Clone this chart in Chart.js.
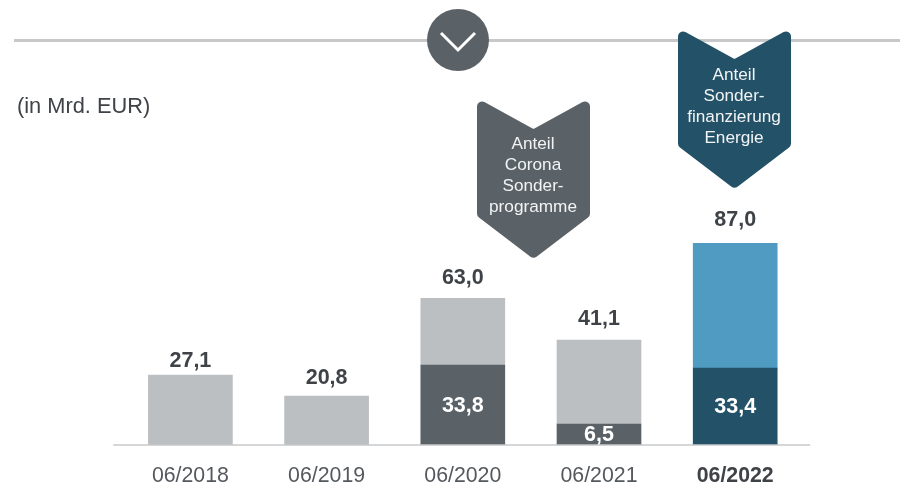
<!DOCTYPE html>
<html>
<head>
<meta charset="utf-8">
<style>
  html, body { margin: 0; padding: 0; background: #fff; }
  canvas { display: block; }
</style>
<script src="https://cdn.jsdelivr.net/npm/chart.js@4/dist/chart.umd.min.js"></script>
</head>
<body>
<canvas id="chart" width="904" height="484"></canvas>
<script>
const categories = ["06/2018", "06/2019", "06/2020", "06/2021", "06/2022"];

// bar segments
const coronaShare = [null, null, 34.5, 9, null];
const energyShare = [null, null, null, null, 33.2];
const restGrey = [30.2, 21.1, 28.8, 36.3, null];
const restBlue = [null, null, null, null, 53.8];

// printed labels
const totalLabels = ["27,1", "20,8", "63,0", "41,1", "87,0"];
const shareLabels = [null, null, "33,8", "6,5", "33,4"];
const unitLabel = "(in Mrd. EUR)";
const coronaNote = ["Anteil", "Corona", "Sonder-", "programme"];
const energyNote = ["Anteil", "Sonder-", "finanzierung", "Energie"];

const FONT = '"Liberation Sans", Arial, sans-serif';
const GREY_DARK = "#5a6268";
const TEAL = "#235268";
const BLUE = "#509bc2";
const GREY_LIGHT = "#bbbfc2";
const RULE = "#c6c8ca";
const TEXT = "#3f4347";

function chevron(ctx, cx, top, notch, shoulder, tip, color) {
  const halfW = 56.5;
  const r = 5;
  const pts = [
    [cx, notch],
    [cx + halfW, top],
    [cx + halfW, shoulder],
    [cx, tip],
    [cx - halfW, shoulder],
    [cx - halfW, top],
  ];
  ctx.beginPath();
  ctx.moveTo(pts[0][0], pts[0][1]);
  for (let i = 1; i <= pts.length; i++) {
    const p = pts[i % pts.length];
    const next = pts[(i + 1) % pts.length];
    ctx.arcTo(p[0], p[1], next[0], next[1], i === pts.length ? 1 : r);
  }
  ctx.closePath();
  ctx.fillStyle = color;
  ctx.fill();
}

function noteText(ctx, cx, firstLine, lines) {
  ctx.fillStyle = "#f2f3f4";
  ctx.font = "17.2px " + FONT;
  ctx.textAlign = "center";
  ctx.textBaseline = "middle";
  lines.forEach((line, i) => ctx.fillText(line, cx, firstLine + i * 21));
}

const decorations = {
  id: "decorations",
  afterDatasetsDraw(chart) {
    const { ctx, scales } = chart;
    const x = scales.x;
    const y = scales.y;
    const zero = y.getPixelForValue(0);
    const labelGaps = [14, 18, 20, 21, 23];
    ctx.save();

    // base line runs past the plot on both sides
    ctx.strokeStyle = RULE;
    ctx.lineWidth = 1.5;
    ctx.beginPath();
    ctx.moveTo(x.left - 9, zero);
    ctx.lineTo(x.right + 7, zero);
    ctx.stroke();

    // top rule with round button
    ctx.lineWidth = 3;
    ctx.beginPath();
    ctx.moveTo(14, 40.5);
    ctx.lineTo(900, 40.5);
    ctx.stroke();
    ctx.fillStyle = GREY_DARK;
    ctx.beginPath();
    ctx.arc(458, 40, 31, 0, Math.PI * 2);
    ctx.fill();
    ctx.strokeStyle = "#fff";
    ctx.lineWidth = 3;
    ctx.beginPath();
    ctx.moveTo(441, 33);
    ctx.lineTo(458, 50);
    ctx.lineTo(475, 33);
    ctx.stroke();

    chevron(ctx, 533.5, 98, 129, 216, 259, GREY_DARK);
    noteText(ctx, 533, 144, coronaNote);
    chevron(ctx, 734.5, 28, 59, 146, 189, TEAL);
    noteText(ctx, 734, 75, energyNote);

    ctx.fillStyle = TEXT;
    ctx.font = "21.8px " + FONT;
    ctx.textAlign = "left";
    ctx.textBaseline = "middle";
    ctx.fillText(unitLabel, 17, 107);

    ctx.font = "bold 21.5px " + FONT;
    ctx.textAlign = "center";
    categories.forEach((c, i) => {
      const total = [coronaShare, energyShare, restGrey, restBlue]
        .reduce((sum, s) => sum + (s[i] || 0), 0);
      const cx = x.getPixelForValue(i);
      ctx.fillStyle = TEXT;
      ctx.fillText(totalLabels[i], cx, y.getPixelForValue(total) - labelGaps[i]);
      if (shareLabels[i]) {
        const share = coronaShare[i] || energyShare[i];
        ctx.fillStyle = "#fff";
        ctx.fillText(shareLabels[i], cx, Math.min(y.getPixelForValue(share / 2), zero - 9) + 1);
      }
    });
    ctx.restore();
  },
};

const bar = (data, color) => ({
  data,
  backgroundColor: color,
  stack: "a",
  barThickness: 84,
  borderWidth: 0,
});

new Chart(document.getElementById("chart"), {
  type: "bar",
  data: {
    labels: categories,
    datasets: [
      bar(coronaShare, GREY_DARK),
      bar(energyShare, TEAL),
      bar(restGrey, GREY_LIGHT),
      bar(restBlue, BLUE),
    ],
  },
  options: {
    responsive: false,
    animation: false,
    layout: { padding: { left: 122.3, right: 100.7, top: 0, bottom: 0 } },
    plugins: { legend: { display: false }, tooltip: { enabled: false } },
    scales: {
      x: {
        stacked: true,
        grid: { display: false },
        border: { display: false },
        afterFit(scale) { scale.height = 39; },
        ticks: {
          color: (c) => (c.index === 4 ? TEXT : "#55595d"),
          padding: 10,
          maxRotation: 0,
          font: (c) => ({
            family: FONT,
            size: 21.3,
            weight: c.index === 4 ? "bold" : "normal",
          }),
        },
      },
      y: { stacked: true, display: false, min: 0, max: 192 },
    },
  },
  plugins: [decorations],
});
</script>
</body>
</html>
